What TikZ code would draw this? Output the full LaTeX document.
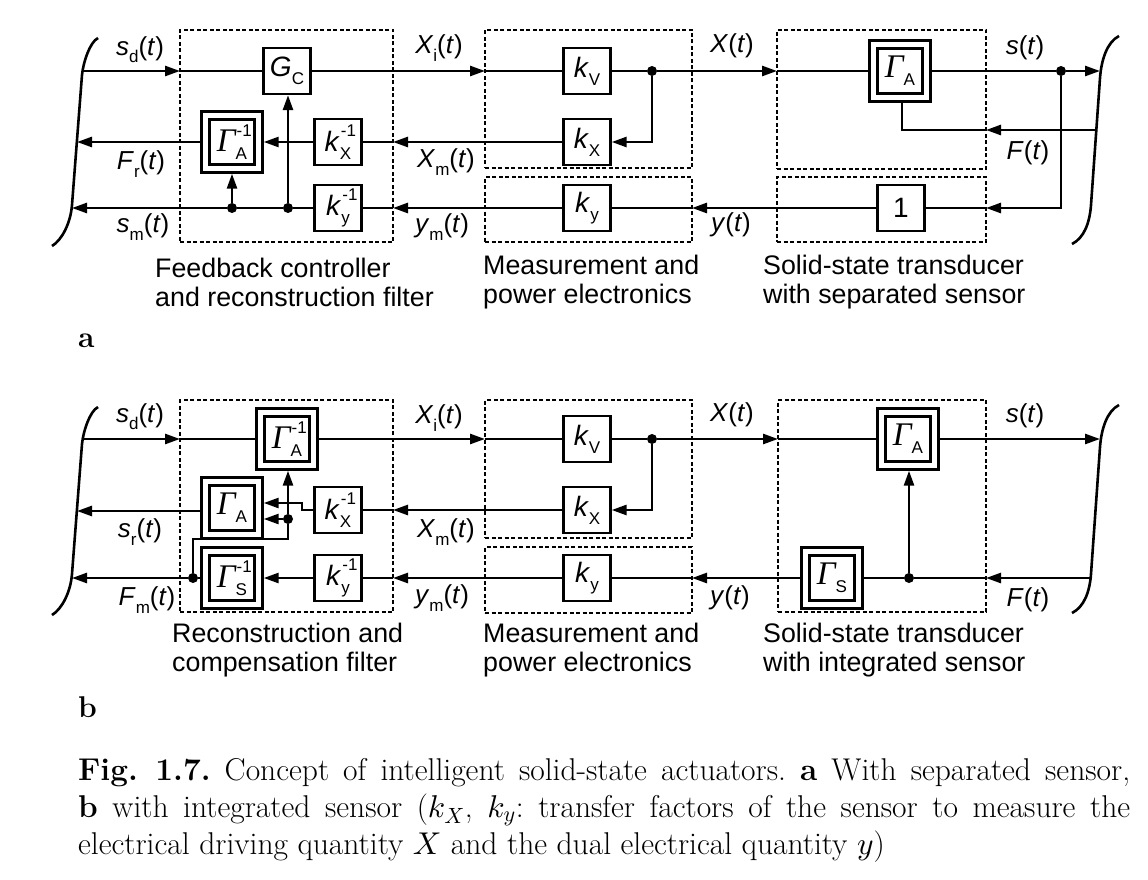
\documentclass[tikz,border=0pt]{standalone}
\usepackage{fontspec}
\DeclareFontShape{OML}{cmm}{m}{it}{<->cmmi10}{}
\newfontfamily\dfont{Liberation Sans}
\newfontfamily\gfont{Liberation Serif}
\usetikzlibrary{arrows.meta}
\newcommand\lo[1]{\raisebox{-0.28em}{\fontsize{17}{17}\selectfont #1}}
\newcommand\hi[1]{\raisebox{0.55em}{\fontsize{17}{17}\selectfont #1}}
\newcommand\losup[2]{\makebox[0pt][l]{\hspace{1pt}\hi{#2}}\lo{#1}}
\newcommand\Gam{{\gfont\itshape\fontsize{33}{33}\selectfont Γ}}
\tikzset{
 blk/.style={draw, line width=2.3pt, minimum width=47pt, minimum height=46pt, inner sep=0pt, font=\dfont\fontsize{28}{28}\selectfont},
 dblk/.style={draw, double, double distance=5.6pt, line width=2.4pt, minimum width=53pt, minimum height=53pt, inner sep=0pt, outer sep=5.2pt, font=\dfont\fontsize{28}{28}\selectfont},
 grp/.style={draw, line width=1.9pt, dash pattern=on 4pt off 2.5pt, inner sep=0pt, outer sep=0pt},
 dot/.style={circle, fill, inner sep=0pt, minimum size=10pt},
 lbl/.style={font=\dfont\fontsize{26}{26}\selectfont, inner sep=0pt},
 glbl/.style={font=\dfont\fontsize{26.8}{29}\selectfont, align=left, anchor=west, inner sep=0pt},
 ln/.style={line width=2.6pt},
 arr/.style={ln, -{Triangle[length=15pt,width=10pt]}},
}
\begin{document}
\begin{tikzpicture}[x=1pt, y=-1pt]
\fill[white] (0,0) rectangle (1148,880);
\useasboundingbox (0,0) rectangle (1148,880);

% ================= panel a =================
\node[grp, minimum width=213pt, minimum height=212pt] (A1) at (286.5,136) {};
\node[grp, minimum width=207pt, minimum height=138pt] (A2) at (588.5,99) {};
\node[grp, minimum width=207pt, minimum height=65pt] (A3) at (588.5,209.5) {};
\node[grp, minimum width=209pt, minimum height=139pt] (A4) at (881.5,99.5) {};
\node[grp, minimum width=209pt, minimum height=65pt] (A5) at (881.5,209.5) {};

\draw[ln] (98,38) .. controls (90,42) and (83.3,62) .. (82,75) -- (72,205) .. controls (70.6,223) and (62,240) .. (52,246);
\draw[ln] (1119,36) .. controls (1107,42) and (1101.3,60) .. (1100,78) -- (1091,205) .. controls (1089.7,223) and (1084,238) .. (1072,244);
\coordinate (LA1) at (82,71);
\coordinate (LA2) at (77,142);
\coordinate (LA3) at (72,208);
\coordinate (RA1) at (1100,71);
\coordinate (RAF) at (1096,130);

\node[blk] (Gc) at (287,71) {\textit{G}\lo{C}};
\node[dblk] (GAinv) at (232,142) {\Gam\losup{A}{-1}};
\node[blk] (kXinv) at (338,142) {\textit{k}\losup{X}{-1}};
\node[blk] (kyinv) at (338,208) {\textit{k}\losup{y}{-1}};
\node[blk] (kV) at (587,71) {\textit{k}\lo{V}};
\node[blk] (kX) at (587,142) {\textit{k}\lo{X}};
\node[blk] (ky) at (587,208) {\textit{k}\lo{y}};
\node[dblk] (GA) at (900,71) {\Gam\lo{A}};
\node[blk] (one) at (901,208) {1};
\node[dot] (d1) at (232,208) {};
\node[dot] (d2) at (288,208) {};
\node[dot] (d3) at (652,71) {};
\node[dot] (d4) at (1061,71) {};
\coordinate (fA) at (902,130);
\coordinate (yA) at (1061,208);

% row 1
\draw[arr] (LA1) -- (LA1 -| A1.west);
\draw[ln] (LA1 -| A1.west) -- (Gc.west);
\draw[arr] (Gc.east) -- (Gc.east -| A2.west);
\draw[ln] (Gc.east -| A2.west) -- (kV.west);
\draw[ln] (kV.east) -- (d3);
\draw[arr] (d3) -- (d3 -| A4.west);
\draw[ln] (d3 -| A4.west) -- (GA.west);
\draw[ln] (GA.east) -- (d4);
\draw[arr] (d4) -- (RA1);
% row 2
\draw[arr] (d3) |- (kX.east);
\draw[arr] (kX.west) -- (kX.west -| A1.east);
\draw[ln] (kX.west -| A1.east) -- (kXinv.east);
\draw[arr] (kXinv.west) -- (GAinv.east);
\draw[arr] (GAinv.west) -- (LA2);
% F(t)
\draw[arr] (RAF) -- (RAF -| A4.east);
\draw[ln] (RAF -| A4.east) -- (fA) -- (fA |- GA.south);
% row 3
\draw[arr] (d4) -- (yA) -- (yA -| A5.east);
\draw[ln] (yA -| A5.east) -- (one.east);
\draw[arr] (one.west) -- (one.west -| A3.east);
\draw[ln] (one.west -| A3.east) -- (ky.east);
\draw[arr] (ky.west) -- (ky.west -| A1.east);
\draw[ln] (ky.west -| A1.east) -- (kyinv.east);
\draw[ln] (kyinv.west) -- (d2) -- (d1);
\draw[arr] (d1) -- (LA3);
\draw[arr] (d2) -- (d2 |- Gc.south);
\draw[arr] (d1) -- (d1 |- GAinv.south);

% labels a
\node[lbl] (la1) at (140,50) {\textit{s}\lo{d}(\textit{t})};
\node[lbl] (la2) at (141,164) {\textit{F}\lo{r}(\textit{t})};
\node[lbl] (la3) at (143,227) {\textit{s}\lo{m}(\textit{t})};
\node[lbl] (la4) at (439,48) {\textit{X}\lo{i}(\textit{t})};
\node[lbl] (la5) at (446,162) {\textit{X}\lo{m}(\textit{t})};
\node[lbl] (la6) at (442,227) {\textit{y}\lo{m}(\textit{t})};
\node[lbl] (la7) at (732,46) {\textit{X}(\textit{t})};
\node[lbl] (la8) at (1025,48) {\textit{s}(\textit{t})};
\node[lbl] (la9) at (1028,153) {\textit{F}(\textit{t})};
\node[lbl] (la10) at (731,225) {\textit{y}(\textit{t})};
\node[glbl] (ga1) at (155,282) {Feedback controller\\and reconstruction filter};
\node[glbl] (ga2) at (483,282) {Measurement and\\power electronics};
\node[glbl] (ga3) at (763,282) {Solid-state transducer\\with separated sensor};
\node[anchor=base west, inner sep=0pt, font=\bfseries\fontsize{30}{30}\selectfont] (pa) at (78,347) {a};

% ================= panel b =================
\node[grp, minimum width=213pt, minimum height=212pt] (B1) at (286.5,506) {};
\node[grp, minimum width=207pt, minimum height=138pt] (B2) at (588.5,469) {};
\node[grp, minimum width=207pt, minimum height=66pt] (B3) at (588.5,580) {};
\node[grp, minimum width=208pt, minimum height=212pt] (B4) at (882,506) {};

\begin{scope}[yshift=-369pt]
\draw[ln] (98,38) .. controls (90,42) and (83.3,62) .. (82,75) -- (72,205) .. controls (70.6,223) and (62,240) .. (52,246);
\draw[ln] (1119,36) .. controls (1107,42) and (1101.3,60) .. (1100,78) -- (1091,205) .. controls (1089.7,223) and (1084,238) .. (1072,244);
\end{scope}
\coordinate (LB1) at (82,439);
\coordinate (LB2) at (77,511);
\coordinate (LB3) at (72,578);
\coordinate (RB1) at (1100,439);
\coordinate (RB3) at (1091,578);

\node[dblk] (GAinvB) at (287,439) {\Gam\losup{A}{-1}};
\node[dblk] (GAB) at (232,508) {\Gam\lo{A}};
\node[blk] (kXinvB) at (338,510) {\textit{k}\losup{X}{-1}};
\node[dblk] (GSinvB) at (232,578) {\Gam\losup{S}{-1}};
\node[blk] (kyinvB) at (338,578) {\textit{k}\losup{y}{-1}};
\node[blk] (kVB) at (587,439) {\textit{k}\lo{V}};
\node[blk] (kXB) at (587,510) {\textit{k}\lo{X}};
\node[blk] (kyB) at (587,578) {\textit{k}\lo{y}};
\node[dblk] (GAB2) at (908,439) {\Gam\lo{A}};
\node[dblk] (GSB) at (832,578) {\Gam\lo{S}};
\node[dot] (dB1) at (652,439) {};
\node[dot] (dB2) at (909,578) {};
\node[dot] (dB3) at (288,519) {};
\node[dot] (dB4) at (193,578) {};
\coordinate (jA) at (302,510);
\coordinate (jB) at (302,503);
\coordinate (jC) at (288,539);

% row 1
\draw[arr] (LB1) -- (LB1 -| B1.west);
\draw[ln] (LB1 -| B1.west) -- (GAinvB.west);
\draw[arr] (GAinvB.east) -- (GAinvB.east -| B2.west);
\draw[ln] (GAinvB.east -| B2.west) -- (kVB.west);
\draw[ln] (kVB.east) -- (dB1);
\draw[arr] (dB1) -- (dB1 -| B4.west);
\draw[ln] (dB1 -| B4.west) -- (GAB2.west);
\draw[arr] (GAB2.east) -- (RB1);
% row 2
\draw[arr] (dB1) |- (kXB.east);
\draw[arr] (kXB.west) -- (kXB.west -| B1.east);
\draw[ln] (kXB.west -| B1.east) -- (kXinvB.east);
\draw[arr] (kXinvB.west) -- (jA) -- (jB) -- (jB -| GAB.east);
\draw[arr] (dB3) -- (dB3 -| GAB.east);
\draw[arr] (dB3) -- (dB3 |- GAinvB.south);
\draw[arr] (GAB.west |- LB2) -- (LB2);
% row 3
\draw[arr] (RB3) -- (RB3 -| B4.east);
\draw[ln] (RB3 -| B4.east) -- (dB2) -- (GSB.east);
\draw[arr] (dB2) -- (dB2 |- GAB2.south);
\draw[arr] (GSB.west) -- (GSB.west -| B3.east);
\draw[ln] (GSB.west -| B3.east) -- (kyB.east);
\draw[arr] (kyB.west) -- (kyB.west -| B1.east);
\draw[ln] (kyB.west -| B1.east) -- (kyinvB.east);
\draw[arr] (kyinvB.west) -- (GSinvB.east);
\draw[ln] (GSinvB.west) -- (dB4);
\draw[arr] (dB4) -- (LB3);
\draw[ln] (dB4) |- (jC) -- (dB3);

% labels b
\node[lbl] (lb1) at (140,417) {\textit{s}\lo{d}(\textit{t})};
\node[lbl] (lb2) at (140,532) {\textit{s}\lo{r}(\textit{t})};
\node[lbl] (lb3) at (147,600) {\textit{F}\lo{m}(\textit{t})};
\node[lbl] (lb4) at (439,418) {\textit{X}\lo{i}(\textit{t})};
\node[lbl] (lb5) at (446,532) {\textit{X}\lo{m}(\textit{t})};
\node[lbl] (lb6) at (442,598) {\textit{y}\lo{m}(\textit{t})};
\node[lbl] (lb7) at (732,415) {\textit{X}(\textit{t})};
\node[lbl] (lb8) at (1025,416) {\textit{s}(\textit{t})};
\node[lbl] (lb9) at (1028,600) {\textit{F}(\textit{t})};
\node[lbl] (lb10) at (730,598) {\textit{y}(\textit{t})};
\node[glbl] (gb1) at (172,650) {Reconstruction and\\compensation filter};
\node[glbl] (gb2) at (483,650) {Measurement and\\power electronics};
\node[glbl] (gb3) at (763,650) {Solid-state transducer\\with integrated sensor};
\node[anchor=base west, inner sep=0pt, font=\bfseries\fontsize{30}{30}\selectfont] (pb) at (78,717) {b};

% caption
\node[anchor=north west, inner sep=0pt, text width=1052pt, align=justify, font=\fontsize{31.5}{37}\selectfont\frenchspacing] (cap) at (78,758)
{\textbf{Fig. 1.7.} Concept of intelligent solid-state actuators. \textbf{a} With separated sensor,\linebreak
\textbf{b} with integrated sensor ($k_X$, $k_y$: transfer factors of the sensor to measure the\linebreak
electrical driving quantity $X$ and the dual electrical quantity $y$)};
\end{tikzpicture}
\end{document}
